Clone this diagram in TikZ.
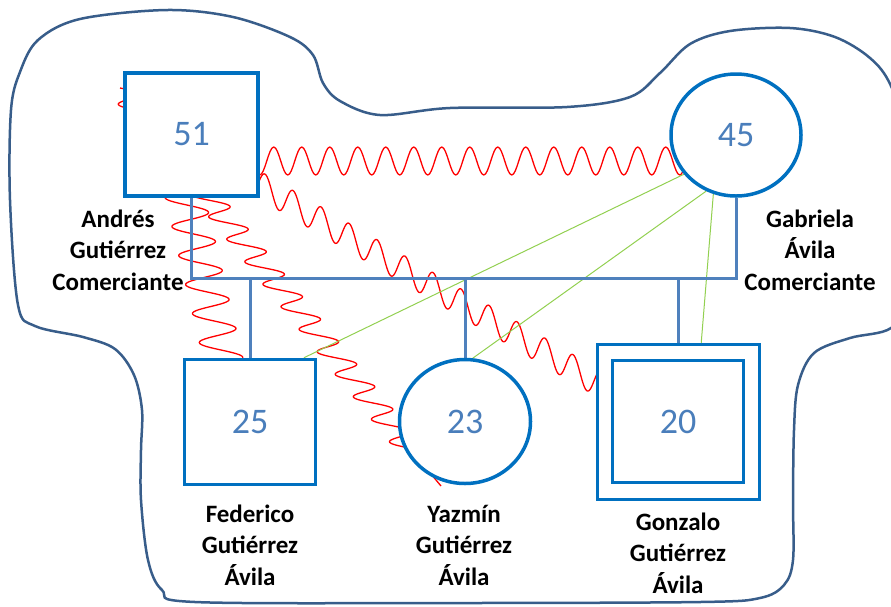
\documentclass[tikz,border=0pt]{standalone}
\usepackage{fontspec}
\setmainfont{Carlito}
\usetikzlibrary{shapes.geometric,decorations.pathmorphing}
\pgfdeclarelayer{background}
\pgfsetlayers{background,main}
\definecolor{boxblue}{RGB}{0,112,192}
\definecolor{barblue}{RGB}{79,129,189}
\definecolor{numblue}{RGB}{74,126,187}
\definecolor{blobblue}{RGB}{56,93,138}
\definecolor{relgreen}{RGB}{146,208,80}
\definecolor{relred}{RGB}{255,0,0}
\begin{document}
\begin{tikzpicture}[x=1pt,y=-1pt,
  malebox/.style={draw=boxblue,line width=3.5pt,fill=white,rectangle,inner sep=0pt,font=\fontsize{36}{40}\selectfont,text=numblue},
  femcirc/.style={draw=boxblue,line width=3.5pt,fill=white,ellipse,inner sep=0pt,font=\fontsize{36}{40}\selectfont,text=numblue},
  namelabel/.style={align=center,font=\bfseries\fontsize{25}{31.5}\selectfont,inner sep=0pt},
  famline/.style={draw=barblue,line width=3pt},
  redline/.style={draw=relred,line width=1.3pt,line join=round},
  conflict/.style={redline,decorate,decoration={snake,amplitude=#1,segment length=28pt,pre length=5pt,post length=5pt}},
  closeline/.style={draw=relgreen,line width=1pt},
  boundary/.style={draw=blobblue,line width=2.5pt}]
\useasboundingbox (0,0) rectangle (891,606);

% nodes
\node[malebox,minimum width=133pt,minimum height=123pt] (b51) at (191.5,134.5) {51};
\node[femcirc,minimum width=130pt,minimum height=122pt] (c45) at (736,135) {45};
\node[malebox,minimum width=131pt,minimum height=125pt] (b25) at (250,422) {25};
\node[femcirc,minimum width=131pt,minimum height=124pt] (c23) at (465,421.5) {23};
\node[malebox,minimum width=162pt,minimum height=155pt] (b20o) at (678.5,422) {};
\node[malebox,minimum width=131pt,minimum height=122pt] (b20) at (678,421.5) {20};

% labels
\node[namelabel] (l51) at (118,250) {Andrés\\Gutiérrez\\Comerciante};
\node[namelabel] (l45) at (810,250) {Gabriela\\Ávila\\Comerciante};
\node[namelabel] (l25) at (250,545) {Federico\\Gutiérrez\\Ávila};
\node[namelabel] (l23) at (464,545) {Yazmín\\Gutiérrez\\Ávila};
\node[namelabel] (l20) at (678,553) {Gonzalo\\Gutiérrez\\Ávila};

% helper coordinates
\coordinate (jl) at (191.5,278);
\coordinate (jr) at (736,278);
\coordinate (s1a) at (232,161);
\coordinate (s1b) at (700,161);
\coordinate (s3m) at (409.3,448);
\coordinate (s3b) at (441,486);

\begin{pgfonlayer}{background}
  \begin{scope}
    \clip (0,0) rectangle (891,606);
    \draw[boundary] plot[smooth cycle,tension=0.55] coordinates {
      (10,200) (11,110) (20,72) (38,40) (80,19) (167,10) (233,17) (290,37)
      (313,55) (323,83) (340,101) (380,115) (450,108) (567,107) (630,97)
      (660,73) (690,44) (730,31) (790,28) (835,37) (870,58) (891,86)
      (912,150) (918,220) (910,295) (891,328) (850,338) (814,353) (798,385) (794,430)
      (793,500) (793,560) (784,585) (760,598) (700,602) (450,603) (195,602)
      (162,590) (148,560) (141,500) (141,450) (142,410) (134,375) (115,349)
      (83,337) (35,326) (18,305)};
  \end{scope}
  % conflict (wavy) lines
  \draw[conflict=14pt] (s1a) -- (s1b);
  \draw[redline] plot[variable=\t,domain=176:358,samples=300]
    ({180+0.236*(\t-176)+20*sin((\t-176)/29*360)},\t);
  \draw[redline] plot[variable=\t,domain=88:448,samples=500]
    ({120+0.8035*(\t-88)+15*sin((\t-88)/22.5*360)},\t) -- (s3m) -- (s3b);
  \draw[redline] plot[variable=\t,domain=258:598,samples=500]
    (\t,{184+0.586*(\t-258)-14*sin((\t-258)/28*360)});
  % close relations
  \draw[closeline] (c45.217) -- (b25.50);
  \draw[closeline] (c45.242) -- (c23.83);
  \draw[closeline] (c45.249) -- (b20o.74);
  % family lines
  \draw[famline] (b51.south) -- (jl) -- (jr) -- (c45.south);
  \draw[famline] (jl -| b25.north) -- (b25.north);
  \draw[famline] (jl -| c23.north) -- (c23.north);
  \draw[famline] (jl -| b20.north) -- (b20.north);
\end{pgfonlayer}
\end{tikzpicture}
\end{document}
